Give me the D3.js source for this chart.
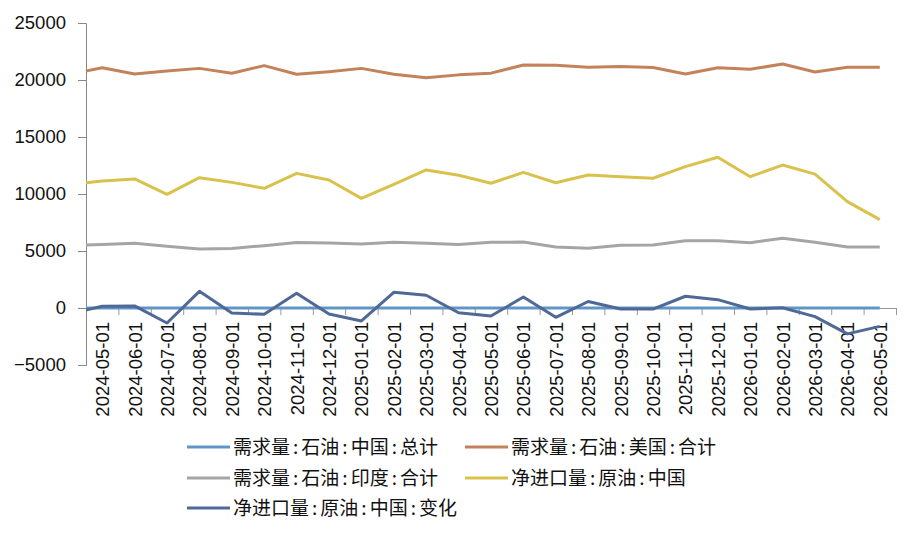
<!DOCTYPE html>
<html>
<head>
<meta charset="utf-8">
<script src="https://cdn.jsdelivr.net/npm/d3@7"></script>
<style>
  body { margin: 0; background: #fff; }
  svg { display: block; }
</style>
</head>
<body>
<svg id="chart" width="919" height="536"></svg>
<script>
// first date sits left of the axis, only its clipped segment shows
const dates = [
  "2024-04-01", "2024-05-01", "2024-06-01", "2024-07-01", "2024-08-01", "2024-09-01",
  "2024-10-01", "2024-11-01", "2024-12-01", "2025-01-01", "2025-02-01", "2025-03-01",
  "2025-04-01", "2025-05-01", "2025-06-01", "2025-07-01", "2025-08-01", "2025-09-01",
  "2025-10-01", "2025-11-01", "2025-12-01", "2026-01-01", "2026-02-01", "2026-03-01",
  "2026-04-01", "2026-05-01",
];

const chinaDemand = [0, 0, 0, 0, 0, 0, 0, 0, 0, 0, 0, 0, 0, 0, 0, 0, 0, 0, 0, 0, 0, 0, 0, 0, 0, 0];
const usDemand = [
  20500, 21080, 20530, 20790, 21020, 20590, 21260, 20500, 20730, 21020, 20500, 20200, 20450,
  20600, 21320, 21300, 21110, 21180, 21100, 20520, 21080, 20940, 21400, 20700, 21110, 21110,
];
const indiaDemand = [
  5470, 5580, 5670, 5420, 5180, 5220, 5470, 5750, 5700, 5610, 5760, 5670, 5580,
  5760, 5790, 5350, 5240, 5500, 5530, 5900, 5900, 5730, 6110, 5760, 5350, 5350,
];
const chinaNetImport = [
  10850, 11140, 11320, 9970, 11430, 11020, 10500, 11810, 11230, 9620, 10850, 12110, 11640,
  10940, 11900, 10990, 11670, 11520, 11380, 12400, 13220, 11520, 12540, 11740, 9330, 7750,
];
const chinaNetImportChg = [
  -500, 150, 180, -1320, 1460, -440, -550, 1290, -520, -1140, 1380, 1120, -420,
  -700, 960, -820, 570, -90, -90, 1030, 730, -90, 20, -760, -2270, -1610,
];

const yTicks = [-5000, 0, 5000, 10000, 15000, 20000, 25000];

const seriesNames = [
  "需求量:石油:中国:总计",
  "需求量:石油:美国:合计",
  "需求量:石油:印度:合计",
  "净进口量:原油:中国",
  "净进口量:原油:中国:变化",
];
const seriesValues = [chinaDemand, usDemand, indiaDemand, chinaNetImport, chinaNetImportChg];
const colors = ["#6096c6", "#c4825b", "#a5a5a5", "#d9c24b", "#4f6997"];

const svg = d3.select("#chart");
const plotLeft = 86, plotRight = 896, plotTop = 23, plotBottom = 365;
const nShown = dates.length - 1;

// index 0 is the hidden prior month, visible months are 1..25
const x = d3.scaleLinear().domain([0.5, nShown + 0.5]).range([plotLeft, plotRight]);
const y = d3.scaleLinear().domain([-5000, 25000]).range([plotBottom, plotTop]);

svg.append("clipPath").attr("id", "plotClip")
  .append("rect")
  .attr("x", plotLeft).attr("y", 0)
  .attr("width", plotRight - plotLeft).attr("height", 536);

// y axis
const yAxis = svg.append("g")
  .attr("transform", `translate(${plotLeft},0)`)
  .call(d3.axisLeft(y).tickValues(yTicks).tickSize(8).tickPadding(12).tickFormat(d3.format("d")));
yAxis.select(".domain").attr("stroke", "#888");
yAxis.selectAll(".tick line").attr("stroke", "#888");
yAxis.selectAll(".tick text")
  .attr("font-family", "Liberation Sans, Arial, sans-serif")
  .attr("font-size", 18.5)
  .attr("fill", "#111");

// x axis at zero, ticks between categories
const boundaries = d3.range(1, nShown + 1).map((i) => i + 0.5);
const xTicks = svg.append("g")
  .attr("transform", `translate(0,${y(0)})`)
  .call(d3.axisBottom(x).tickValues(boundaries).tickSize(7).tickFormat("").tickSizeOuter(0));
xTicks.select(".domain").attr("stroke", "#999");
xTicks.selectAll(".tick line").attr("stroke", "#999");

const xLabels = svg.append("g")
  .attr("transform", `translate(0,${y(0)})`)
  .call(d3.axisBottom(x)
    .tickValues(d3.range(1, nShown + 1))
    .tickSize(0)
    .tickFormat((i) => dates[i]));
xLabels.select(".domain").remove();
xLabels.selectAll(".tick text")
  .attr("font-family", "Liberation Sans, Arial, sans-serif")
  .attr("font-size", 18.5)
  .attr("fill", "#111")
  .attr("transform", "rotate(-90)")
  .attr("text-anchor", "end")
  .attr("x", -14)
  .attr("y", 0)
  .attr("dy", "0.35em");

// lines
const line = d3.line()
  .x((d, i) => x(i))
  .y((d) => y(d));

svg.append("g")
  .attr("clip-path", "url(#plotClip)")
  .selectAll(".seriesLine")
  .data(seriesValues)
  .enter()
  .append("path")
  .attr("class", "seriesLine")
  .attr("d", (d) => line(d))
  .attr("fill", "none")
  .attr("stroke", (d, i) => colors[i])
  .attr("stroke-width", 3)
  .attr("stroke-linejoin", "round");

// legend
const legendPos = [
  { lx: 187, ly: 447 },
  { lx: 465, ly: 447 },
  { lx: 187, ly: 478 },
  { lx: 465, ly: 478 },
  { lx: 187, ly: 508 },
];

const legend = svg.append("g")
  .selectAll(".legendItem")
  .data(seriesNames)
  .enter()
  .append("g")
  .attr("class", "legendItem")
  .attr("transform", (d, i) => `translate(${legendPos[i].lx},${legendPos[i].ly})`);

legend.append("line")
  .attr("x1", 0).attr("x2", 43)
  .attr("y1", 0).attr("y2", 0)
  .attr("stroke", (d, i) => colors[i])
  .attr("stroke-width", 3);

legend.append("text")
  .attr("x", 46)
  .attr("y", 0)
  .attr("dy", "0.36em")
  .attr("font-family", "Noto Sans CJK SC, sans-serif")
  .attr("font-size", 19)
  .attr("fill", "#111")
  .each(function (name) {
    const t = d3.select(this);
    name.split(":").forEach((part, k) => {
      if (k > 0) t.append("tspan").attr("dx", 3).text(":");
      t.append("tspan").attr("dx", k > 0 ? 3 : 0).text(part);
    });
  });
</script>
</body>
</html>
